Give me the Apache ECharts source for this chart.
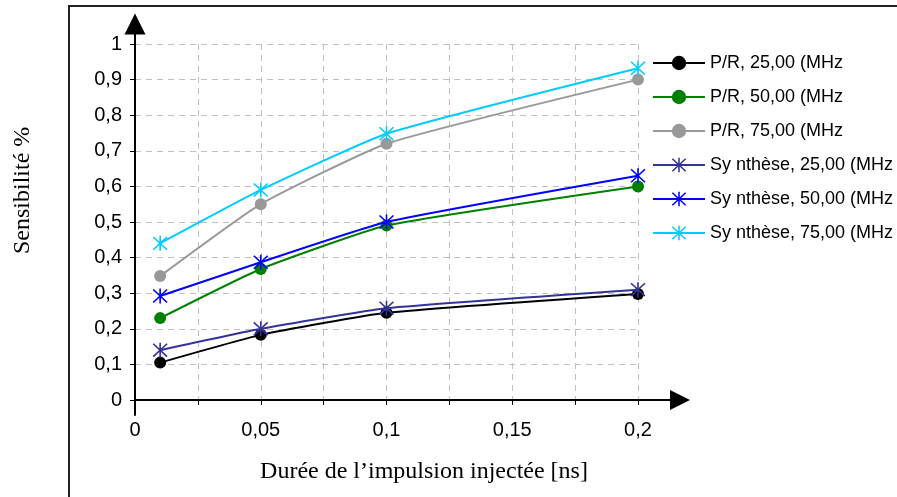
<!DOCTYPE html>
<html>
<head>
<meta charset="utf-8">
<script src="https://cdn.jsdelivr.net/npm/echarts@6/dist/echarts.min.js"></script>
<style>
  html, body { margin: 0; padding: 0; background: #fff; }
  #chart { width: 897px; height: 497px; }
</style>
</head>
<body>
<div id="chart"></div>
<script>
/* data */
var pulseWidths = [0.01, 0.05, 0.1, 0.2];
var seriesNames = [
  'P/R, 25,00 (MHz', 'P/R, 50,00 (MHz', 'P/R, 75,00 (MHz',
  'Sy nthèse, 25,00 (MHz', 'Sy nthèse, 50,00 (MHz', 'Sy nthèse, 75,00 (MHz'
];
var pr25 = [0.105, 0.183, 0.245, 0.298];
var pr50 = [0.23, 0.368, 0.49, 0.6];
var pr75 = [0.348, 0.55, 0.72, 0.9];
var syn25 = [0.14, 0.2, 0.258, 0.31];
var syn50 = [0.292, 0.387, 0.5, 0.63];
var syn75 = [0.44, 0.59, 0.748, 0.932];
var xTickLabels = ['0', '0,05', '0,1', '0,15', '0,2'];
var yTickLabels = ['0', '0,1', '0,2', '0,3', '0,4', '0,5', '0,6', '0,7', '0,8', '0,9', '1'];

var colors = ['#000000', '#008000', '#999999', '#333399', '#0000ff', '#00ccff'];
var values = [pr25, pr50, pr75, syn25, syn50, syn75];

// excel style asterisk (x plus vertical bar)
var star = 'path://M9 0L11 0L11 20L9 20Z M0.7 2.1L2.1 0.7L19.3 17.9L17.9 19.3Z M17.9 0.7L19.3 2.1L2.1 19.3L0.7 17.9Z';

var series = values.map(function (vals, i) {
  var isStar = i >= 3;
  return {
    name: seriesNames[i],
    type: 'line',
    xAxisIndex: 0,
    yAxisIndex: 0,
    smooth: 0.15,
    data: vals.map(function (v, k) { return [pulseWidths[k], v]; }),
    symbol: isStar ? star : 'circle',
    symbolSize: isStar ? 15 : 12,
    showAllSymbol: true,
    lineStyle: { color: colors[i], width: 2 },
    itemStyle: { color: colors[i] },
    z: isStar ? 3 : 2
  };
});

var option = {
  animation: false,
  backgroundColor: '#fff',
  textStyle: { fontFamily: 'Liberation Sans' },
  grid: [
    { left: 135, right: 259, top: 44, bottom: 97 },
    { left: 135, right: 217, top: 24, bottom: 82 }
  ],
  xAxis: [{
    type: 'value', gridIndex: 0, min: 0, max: 0.2, interval: 0.025,
    axisLine: { show: false },
    axisTick: { show: true, length: 5, lineStyle: { color: '#000', width: 1 } },
    axisLabel: {
      margin: 20, fontSize: 20, color: '#000', fontFamily: 'Liberation Sans',
      formatter: function (v) {
        var k = Math.round(v / 0.025);
        return k % 2 === 0 ? xTickLabels[k / 2] : '';
      }
    },
    splitLine: { show: true, lineStyle: { color: '#c0c0c0', type: [6, 5], width: 1 } }
  }, {
    type: 'value', gridIndex: 1, min: 0, max: 0.2167,
    axisLine: { show: true, onZero: true, symbol: ['none', 'triangle'], symbolSize: [20, 20],
      lineStyle: { color: '#000', width: 2 } },
    axisTick: { show: false }, axisLabel: { show: false }, splitLine: { show: false }
  }],
  yAxis: [{
    type: 'value', gridIndex: 0, min: 0, max: 1, interval: 0.1,
    axisLine: { show: false },
    axisTick: { show: true, length: 5, lineStyle: { color: '#000', width: 1 } },
    axisLabel: {
      margin: 13, fontSize: 20, color: '#000', fontFamily: 'Liberation Sans',
      formatter: function (v) { return yTickLabels[Math.round(v * 10)]; }
    },
    splitLine: { show: true, lineStyle: { color: '#c0c0c0', type: [6, 5], width: 1 } }
  }, {
    type: 'value', gridIndex: 1, min: -0.0421, max: 1.0562,
    axisLine: { show: true, onZero: true, symbol: ['none', 'triangle'], symbolSize: [21, 21],
      lineStyle: { color: '#000', width: 2 } },
    axisTick: { show: false }, axisLabel: { show: false }, splitLine: { show: false }
  }],
  legend: {
    orient: 'vertical', left: 652, top: 54, padding: 0,
    itemWidth: 52, itemHeight: 18, itemGap: 16,
    textStyle: { fontSize: 18, color: '#000', fontFamily: 'Liberation Sans' },
    data: seriesNames
  },
  graphic: [{
    type: 'polyline',
    shape: { points: [[69, 497], [69, 6], [897, 6]] },
    style: { stroke: '#222', lineWidth: 2, fill: null }
  }, {
    type: 'text', x: 424, y: 460,
    style: { text: 'Durée de l’impulsion injectée [ns]', font: '24px "Liberation Serif"', fill: '#000', textAlign: 'center' }
  }, {
    type: 'text', x: 11, y: 254, rotation: Math.PI / 2,
    style: { text: 'Sensibilité %', font: '24px "Liberation Serif"', fill: '#000' }
  }],
  series: series
};

var chart = echarts.init(document.getElementById('chart'));
chart.setOption(option);
</script>
</body>
</html>
